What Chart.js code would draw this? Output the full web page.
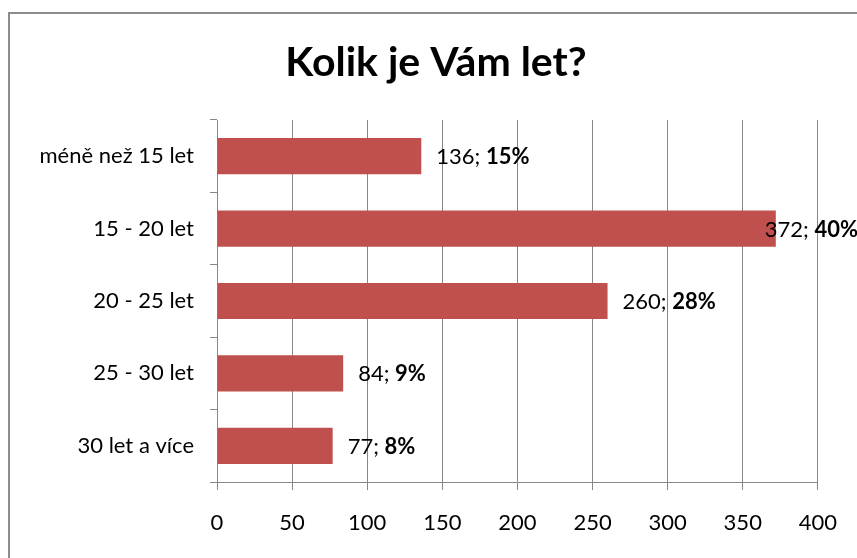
<!DOCTYPE html>
<html>
<head>
<meta charset="utf-8">
<script src="https://cdn.jsdelivr.net/npm/chart.js@4/dist/chart.umd.min.js"></script>
<style>
  html, body { margin: 0; padding: 0; background: #fff; }
  #canvas { display: block; }
</style>
</head>
<body>
<canvas id="canvas" width="857" height="558"></canvas>
<script>
const categories = ['méně než 15 let', '15 - 20 let', '20 - 25 let', '25 - 30 let', '30 let a více'];
const counts = [136, 372, 260, 84, 77];
const percents = [15, 40, 28, 9, 8];
const xTicks = [0, 50, 100, 150, 200, 250, 300, 350, 400];
const title = 'Kolik je Vám let?';

const FONT = 'Lato, "Open Sans", sans-serif';
const GRID = '#878787';
const LABEL_SIZE = 22;

// frame around the whole chart + title (the title sits off-centre like the original)
const framePlugin = {
  id: 'frame',
  beforeDraw(chart) {
    const c = chart.ctx;
    c.save();
    c.fillStyle = '#fff';
    c.fillRect(0, 0, chart.width, chart.height);
    c.strokeStyle = '#8c8c8c';
    c.lineWidth = 2;
    c.strokeRect(9, 13, chart.width + 20, chart.height + 20);
    c.restore();
  },
  afterDraw(chart) {
    const c = chart.ctx;
    c.save();
    c.fillStyle = '#000';
    c.font = 'bold 41px ' + FONT;
    c.textAlign = 'center';
    c.textBaseline = 'middle';
    c.fillText(title, 436, 62.6);
    c.restore();
  }
};

// "136; 15%" style labels, percentage in bold
const valueLabels = {
  id: 'valueLabels',
  afterDatasetsDraw(chart) {
    const c = chart.ctx;
    const meta = chart.getDatasetMeta(0);
    c.save();
    c.textBaseline = 'middle';
    c.fillStyle = '#000';
    meta.data.forEach((bar, i) => {
      const a = counts[i] + '; ';
      const b = percents[i] + '%';
      c.font = LABEL_SIZE + 'px ' + FONT;
      const wa = c.measureText(a).width;
      c.font = 'bold ' + LABEL_SIZE + 'px ' + FONT;
      const wb = c.measureText(b).width;
      let x = bar.x + 15;
      if (x + wa + wb > chart.width) x = chart.width - wa - wb + 1;
      c.font = LABEL_SIZE + 'px ' + FONT;
      c.fillText(a, x, bar.y + 1);
      c.font = 'bold ' + LABEL_SIZE + 'px ' + FONT;
      c.fillText(b, x + wa, bar.y + 1);
    });
    c.restore();
  }
};

const ctx = document.getElementById('canvas').getContext('2d');

const myChart = new Chart(ctx, {
  type: 'bar',
  data: {
    labels: categories,
    datasets: [{
      data: counts,
      backgroundColor: '#c0504d',
      barPercentage: 0.5,
      categoryPercentage: 1.0,
    }]
  },
  options: {
    indexAxis: 'y',
    responsive: false,
    animation: false,
    layout: { padding: { left: 12, right: 25, top: 120, bottom: 0 } },
    scales: {
      x: {
        min: 0,
        max: 400,
        afterBuildTicks(s) { s.ticks = xTicks.map(v => ({ value: v })); },
        afterFit(s) { s.height = 76; },
        grid: { color: GRID, lineWidth: 1, tickLength: 8 },
        border: { color: GRID },
        ticks: { color: '#000', padding: 20, font: { family: FONT, size: LABEL_SIZE } },
      },
      y: {
        afterFit(s) { s.width = 205; },
        grid: { drawOnChartArea: false, color: GRID, tickLength: 7, offset: true },
        border: { color: GRID },
        ticks: { color: '#000', padding: 16, font: { family: FONT, size: LABEL_SIZE } },
      },
    },
    plugins: {
      legend: { display: false },
      tooltip: { enabled: false },
    },
  },
  plugins: [framePlugin, valueLabels],
});
</script>
</body>
</html>
